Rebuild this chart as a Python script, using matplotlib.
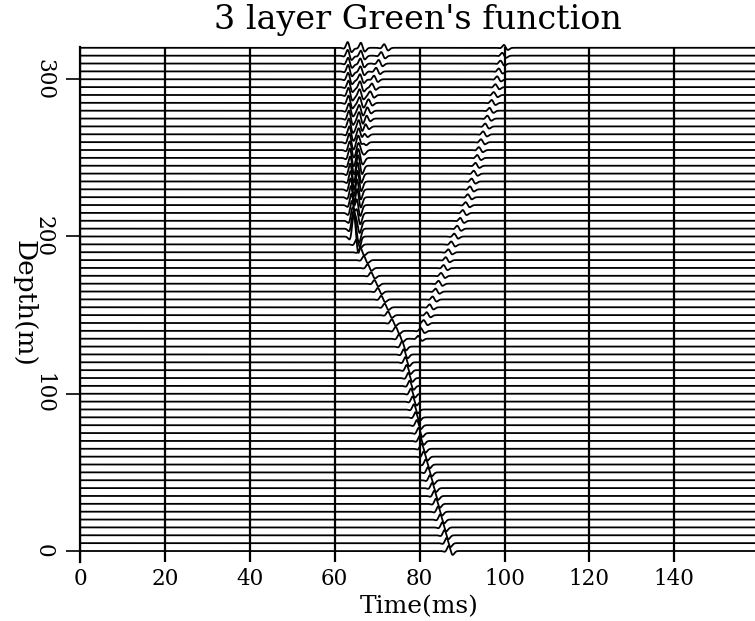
import numpy as np
import matplotlib
matplotlib.use("Agg")
import matplotlib.pyplot as plt

# ---------------- data ----------------
title = "3 layer Green's function"
xlabel = "Time(ms)"
ylabel = "Depth(m)"
xticks = [0, 20, 40, 60, 80, 100, 120, 140]
yticks = [0, 100, 200, 300]

# receiver depths (m), one trace each
depths = list(range(0, 325, 5))

# direct (downgoing) arrival time per trace, ms
direct_t = [87.0, 86.5, 86.0, 85.5, 85.0, 84.5, 84.0, 83.6, 83.1, 82.6,
            82.1, 81.6, 81.1, 80.6, 80.2, 79.9, 79.5, 79.2, 78.8, 78.5,
            78.1, 77.8, 77.5, 77.1, 76.8, 76.4, 76.0, 75.3, 74.5, 73.6,
            72.7, 71.9, 71.1, 70.3, 69.5, 68.7, 67.9, 67.0, 66.2, 65.3,
            64.5, 64.4, 64.3, 64.2, 64.1, 64.0, 63.9, 63.9, 63.8, 63.8,
            63.7, 63.7, 63.6, 63.6, 63.5, 63.5, 63.5, 63.4, 63.4, 63.4,
            63.3, 63.3, 63.3, 63.2, 63.2]
direct_amp = [3.6] * 27 + [3.0, 2.8, 2.6, 2.5, 2.5, 2.5, 2.5, 2.5, 2.5,
                           2.6, 2.8, 3.0, 3.5,
                           9.0, 9.5, 9.5, 9.5, 9.0, 8.5, 8.0, 7.5, 7.0, 6.5,
                           6.5, 6.0, 6.0, 5.5, 5.5, 5.5, 5.0, 5.0, 5.0, 4.5,
                           4.5, 4.5, 4.0, 4.0, 4.0]

# reflected (upgoing) branch from the lower interface
refl_depths = list(range(135, 325, 5))
refl_t = [79.8, 80.4, 81.1, 81.8, 82.5, 83.2, 83.9, 84.6, 85.2, 85.8,
          86.3, 86.9, 87.6, 88.3, 89.0, 89.7, 90.3, 91.0, 91.5, 92.0,
          92.4, 92.9, 93.3, 93.7, 94.1, 94.6, 95.1, 95.6, 96.1, 96.6,
          97.1, 97.6, 98.0, 98.4, 98.8, 99.2, 99.6, 100.0]
refl_amp = [2.0] * len(refl_depths)

# second branch in the top layer
top_depths = list(range(200, 325, 5))
top_t = [64.6, 64.7, 64.8, 64.9, 65.0, 65.1, 65.2, 65.4, 65.5, 65.8,
         66.1, 66.4, 66.7, 67.0, 67.3, 67.6, 67.8, 68.1, 68.5, 68.9,
         69.4, 69.9, 70.5, 71.1, 71.8]
top_amp = [2.5] * len(top_depths)

# crossing strong arrival in the top layer
cross_t = [65.0, 65.1, 65.2, 65.3, 65.3, 65.4, 65.4, 65.5, 65.5, 65.6,
           65.6, 65.7, 65.7, 65.8, 65.8, 65.9, 65.9, 66.0, 66.0, 66.1,
           66.1, 66.2, 66.2, 66.3, 66.3]
cross_amp = [8.0, 8.5, 8.5, 8.5, 8.0, 7.5, 7.0, 6.5, 6.0, 5.5,
             5.5, 5.0, 5.0, 4.5, 4.5, 4.5, 4.0, 4.0, 4.0, 4.0,
             3.5, 3.5, 3.5, 3.5, 3.5]

# ---------------- plot ----------------
FONT = "DejaVu Serif"
fig = plt.figure(figsize=(7.55, 6.21), dpi=100)
ax = fig.add_axes([80 / 755, 59 / 621, 675 / 755, 515 / 621])

t = np.linspace(0, 159, 8000)
f0 = 0.42  # wavelet peak frequency (1/ms)


def wavelet(tt):
    a = (np.pi * f0 * tt) ** 2
    ricker = (1 - 2 * a) * np.exp(-a)
    dg = -np.sqrt(2 * np.e) * np.pi * f0 * tt * np.exp(-a)
    return 0.8 * ricker + 0.45 * dg


traces = {d: np.zeros_like(t) for d in depths}
for d, t0, a in zip(depths, direct_t, direct_amp):
    traces[d] += a * wavelet(t - t0)
for d, t0, a in zip(refl_depths, refl_t, refl_amp):
    traces[d] += a * wavelet(t - t0)
for d, t0, a in zip(top_depths, top_t, top_amp):
    traces[d] += a * wavelet(t - t0)
for d, t0, a in zip(top_depths, cross_t, cross_amp):
    traces[d] += a * wavelet(t - t0)

for d in depths:
    ax.plot(t, d + traces[d], color="black", lw=1.3, clip_on=False,
            solid_joinstyle="miter")

for x in xticks:
    ax.axvline(x, color="black", lw=1.6)

ax.set_xlim(0, 159)
ax.set_ylim(-7, 320.5)
for s in ["top", "right", "bottom"]:
    ax.spines[s].set_visible(False)
ax.spines["left"].set_linewidth(1.6)

ax.set_xticks(xticks)
ax.set_xticklabels([str(v) for v in xticks], fontsize=15.5, family=FONT)
ax.tick_params(axis="x", length=0, pad=4)
ax.set_yticks(yticks)
ax.set_yticklabels([str(v) for v in yticks], fontsize=15.5, family=FONT,
                   rotation=-90, va="center", ha="center")
ax.tick_params(axis="y", length=10, width=1.2, pad=16)

fig.text(0.553, 0.967, title, ha="center", va="center", fontsize=24,
         family=FONT)
fig.text(0.555, 0.023, xlabel, ha="center", va="center", fontsize=18,
         family=FONT)
fig.text(24 / 755, 1 - 303 / 621, ylabel, ha="center", va="center",
         fontsize=19, family=FONT, rotation=-90)

fig.savefig("out.png", dpi=100)
